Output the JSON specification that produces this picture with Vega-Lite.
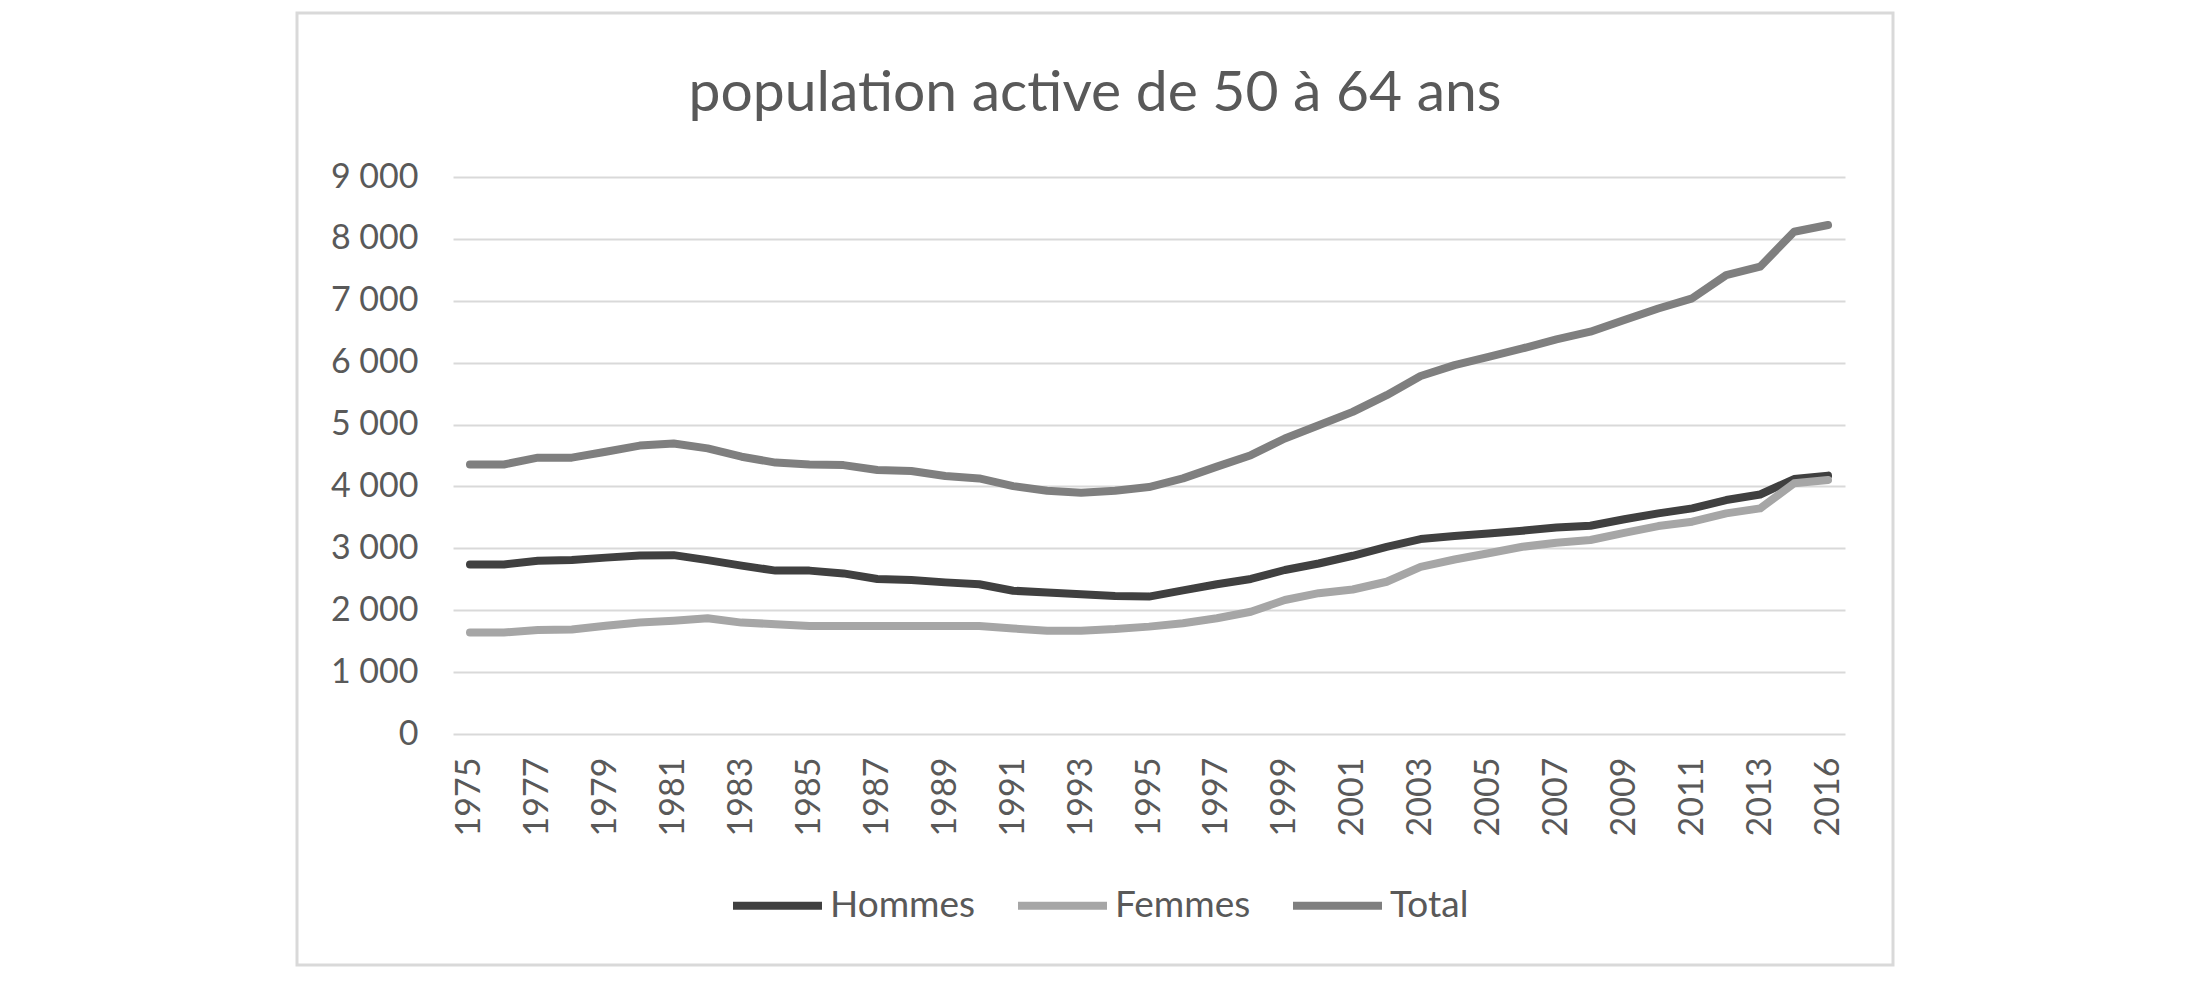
{
  "$schema": "https://vega.github.io/schema/vega-lite/v6.json",
  "width": 1596,
  "height": 952,
  "autosize": {"type": "none"},
  "padding": {"left": 297, "top": 13, "right": 307, "bottom": 18},
  "background": "white",
  "title": {
    "text": "population active de 50 à 64 ans",
    "font": "Lato",
    "fontSize": 57,
    "fontWeight": "normal",
    "color": "#595959",
    "anchor": "middle",
    "frame": "group",
    "baseline": "middle",
    "offset": -138
  },
  "data": {
    "values": [
      {"annee": 1975, "Hommes": 2740, "Femmes": 1640, "Total": 4355},
      {"annee": 1976, "Hommes": 2740, "Femmes": 1640, "Total": 4355},
      {"annee": 1977, "Hommes": 2800, "Femmes": 1680, "Total": 4465},
      {"annee": 1978, "Hommes": 2810, "Femmes": 1690, "Total": 4465},
      {"annee": 1979, "Hommes": 2850, "Femmes": 1750, "Total": 4560},
      {"annee": 1980, "Hommes": 2885, "Femmes": 1800, "Total": 4660},
      {"annee": 1981, "Hommes": 2890, "Femmes": 1830, "Total": 4695},
      {"annee": 1982, "Hommes": 2810, "Femmes": 1870, "Total": 4615},
      {"annee": 1983, "Hommes": 2720, "Femmes": 1800, "Total": 4480},
      {"annee": 1984, "Hommes": 2640, "Femmes": 1775, "Total": 4385},
      {"annee": 1985, "Hommes": 2640, "Femmes": 1745, "Total": 4355},
      {"annee": 1986, "Hommes": 2595, "Femmes": 1745, "Total": 4345},
      {"annee": 1987, "Hommes": 2505, "Femmes": 1745, "Total": 4265},
      {"annee": 1988, "Hommes": 2490, "Femmes": 1745, "Total": 4250},
      {"annee": 1989, "Hommes": 2450, "Femmes": 1745, "Total": 4170},
      {"annee": 1990, "Hommes": 2420, "Femmes": 1745, "Total": 4130},
      {"annee": 1991, "Hommes": 2315, "Femmes": 1705, "Total": 4005},
      {"annee": 1992, "Hommes": 2285, "Femmes": 1670, "Total": 3930},
      {"annee": 1993, "Hommes": 2260, "Femmes": 1670, "Total": 3900},
      {"annee": 1994, "Hommes": 2230, "Femmes": 1695, "Total": 3930},
      {"annee": 1995, "Hommes": 2220, "Femmes": 1735, "Total": 3990},
      {"annee": 1996, "Hommes": 2320, "Femmes": 1790, "Total": 4130},
      {"annee": 1997, "Hommes": 2420, "Femmes": 1870, "Total": 4320},
      {"annee": 1998, "Hommes": 2505, "Femmes": 1975, "Total": 4505},
      {"annee": 1999, "Hommes": 2650, "Femmes": 2165, "Total": 4775},
      {"annee": 2000, "Hommes": 2755, "Femmes": 2275, "Total": 4990},
      {"annee": 2001, "Hommes": 2880, "Femmes": 2335, "Total": 5205},
      {"annee": 2002, "Hommes": 3025, "Femmes": 2460, "Total": 5475},
      {"annee": 2003, "Hommes": 3150, "Femmes": 2700, "Total": 5785},
      {"annee": 2004, "Hommes": 3200, "Femmes": 2820, "Total": 5960},
      {"annee": 2005, "Hommes": 3240, "Femmes": 2920, "Total": 6095},
      {"annee": 2006, "Hommes": 3285, "Femmes": 3025, "Total": 6230},
      {"annee": 2007, "Hommes": 3335, "Femmes": 3090, "Total": 6375},
      {"annee": 2008, "Hommes": 3365, "Femmes": 3135, "Total": 6500},
      {"annee": 2009, "Hommes": 3470, "Femmes": 3250, "Total": 6690},
      {"annee": 2010, "Hommes": 3565, "Femmes": 3360, "Total": 6875},
      {"annee": 2011, "Hommes": 3645, "Femmes": 3430, "Total": 7040},
      {"annee": 2012, "Hommes": 3780, "Femmes": 3565, "Total": 7415},
      {"annee": 2013, "Hommes": 3870, "Femmes": 3645, "Total": 7550},
      {"annee": 2015, "Hommes": 4120, "Femmes": 4050, "Total": 8115},
      {"annee": 2016, "Hommes": 4175, "Femmes": 4105, "Total": 8225}
    ]
  },
  "transform": [
    {"fold": ["Hommes", "Femmes", "Total"], "as": ["serie", "valeur"]}
  ],
  "mark": {"type": "line", "strokeWidth": 8, "strokeCap": "round", "strokeJoin": "round"},
  "encoding": {
    "x": {
      "field": "annee",
      "type": "ordinal",
      "scale": {"range": [156, 1548], "padding": 0.5},
      "axis": {
        "title": null,
        "values": [1975, 1977, 1979, 1981, 1983, 1985, 1987, 1989, 1991, 1993, 1995, 1997, 1999, 2001, 2003, 2005, 2007, 2009, 2011, 2013, 2016],
        "labelAngle": -90,
        "labelFont": "Lato",
        "labelFontSize": 34,
        "labelColor": "#595959",
        "ticks": false,
        "tickSize": 0,
        "domain": false,
        "grid": false,
        "labelPadding": 0,
        "offset": -208,
        "labelOverlap": false,
        "labelBound": false
      }
    },
    "y": {
      "field": "valeur",
      "type": "quantitative",
      "scale": {"domain": [0, 9000], "range": [721, 164], "nice": false},
      "axis": {
        "title": null,
        "values": [0, 1000, 2000, 3000, 4000, 5000, 6000, 7000, 8000, 9000],
        "labelExpr": "replace(format(datum.value, ','), ',', ' ')",
        "labelFont": "Lato",
        "labelFontSize": 34,
        "labelColor": "#595959",
        "ticks": false,
        "tickSize": 0,
        "domain": false,
        "grid": true,
        "gridColor": "#d9d9d9",
        "gridWidth": 2,
        "labelPadding": 0,
        "offset": -121
      }
    },
    "color": {
      "field": "serie",
      "type": "nominal",
      "scale": {"domain": ["Hommes", "Femmes", "Total"], "range": ["#404040", "#a6a6a6", "#7f7f7f"]},
      "legend": {
        "title": null,
        "orient": "none",
        "legendX": 432,
        "legendY": 844,
        "direction": "horizontal",
        "labelFont": "Lato",
        "labelFontSize": 37,
        "labelColor": "#595959",
        "symbolType": "stroke",
        "symbolStrokeWidth": 8,
        "symbolSize": 7921,
        "labelOffset": 4,
        "columnPadding": 26
      }
    }
  },
  "config": {"view": {"stroke": "#d9d9d9", "strokeWidth": 3}}
}
